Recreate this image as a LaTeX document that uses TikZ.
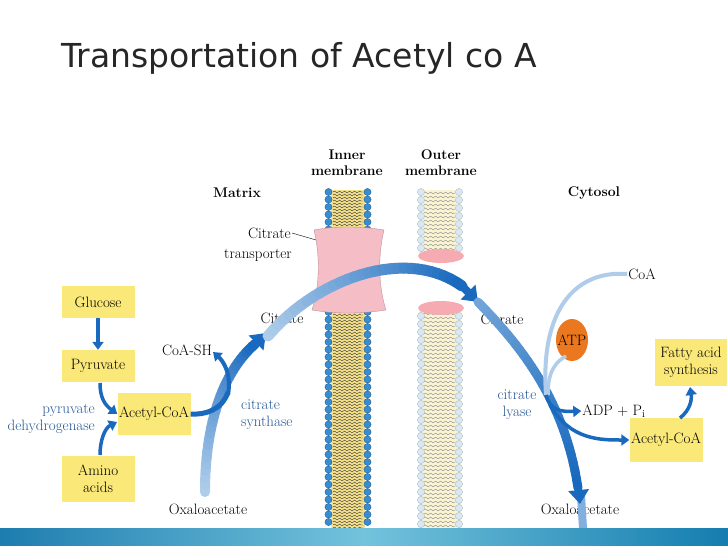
\documentclass[tikz,border=0pt]{standalone}
\usepackage{fontspec}
\newfontfamily\titlefont{DejaVu Sans}
\usetikzlibrary{arrows.meta,decorations.pathmorphing}
\definecolor{dblue}{RGB}{25,105,190}
\definecolor{lblue}{RGB}{175,205,235}
\definecolor{ybox}{RGB}{250,232,120}
\definecolor{btext}{RGB}{35,85,150}
\definecolor{pinkt}{RGB}{245,190,198}
\definecolor{myel}{RGB}{245,225,140}
\definecolor{oyel}{RGB}{250,244,212}
\definecolor{ihead}{RGB}{55,140,210}
\definecolor{ohead}{RGB}{215,232,246}
\definecolor{atpc}{RGB}{235,120,30}
\definecolor{barl}{RGB}{30,125,175}
\definecolor{barm}{RGB}{115,195,220}
\definecolor{barr}{RGB}{20,125,175}
\newcommand\gcA{lblue}
\newcommand\gcB{dblue}
\newcommand\gcurve[9]{%
\foreach \i in {0,...,29}{%
\pgfmathsetmacro\ta{\i/30}\pgfmathsetmacro\tb{(\i+1)/30}\pgfmathtruncatemacro\pc{100*\i/29}%
\draw[line width=#9,line cap=round,color=\gcB!\pc!\gcA] ({bz(\ta,#1,#3,#5,#7)},{bz(\ta,#2,#4,#6,#8)}) -- ({bz(\tb,#1,#3,#5,#7)},{bz(\tb,#2,#4,#6,#8)});}}
\begin{document}
\begin{tikzpicture}[x=1pt,y=-1pt,
 declare function={bz(\t,\a,\b,\c,\d)=(1-\t)^3*\a+3*(1-\t)^2*\t*\b+3*(1-\t)*\t^2*\c+\t^3*\d;},
 lbl/.style={font=\fontsize{15}{17}\selectfont,align=center,inner sep=1pt},
 blbl/.style={lbl,text=btext},
 ybx/.style={fill=ybox,lbl,inner sep=0pt},
 arr/.style={dblue,line width=3.5pt,-{Triangle[length=8pt,width=11pt]}},
 wav/.style={decorate,decoration={snake,amplitude=0.9,segment length=5}}]
\useasboundingbox (0,0) rectangle (728,546);
\fill[white] (0,0) rectangle (728,546);
\node[anchor=west,font=\titlefont\fontsize{33}{38}\selectfont,text=black!85] (title) at (58,58) {Transportation of Acetyl co A};
% inner membrane
\fill[myel] (331,190) rectangle (365,528);
\foreach \y in {192,195,...,528}{\ifnum\y>226 \ifnum\y<314 \else \draw[black!80,line width=0.4pt,wav] (333,\y) -- (363,\y);\fi\else\draw[black!80,line width=0.4pt,wav] (333,\y) -- (363,\y);\fi}
\foreach \y in {192,199.5,...,528}{\fill[ihead,draw=ihead!60!black,line width=0.3pt] (328.5,\y) circle (3.6) (367.5,\y) circle (3.6);}
% transporter
\fill[pinkt,draw=pinkt!70!black,line width=0.3pt] (314,230) .. controls (335,226) and (360,226) .. (384,230) .. controls (378,255) and (378,285) .. (386,310) .. controls (360,314) and (335,314) .. (312,310) .. controls (320,285) and (320,255) .. (314,230) -- cycle;
% outer membrane
\fill[oyel] (419,190) rectangle (461,256);
\fill[oyel] (419,308) rectangle (461,528);
\foreach \y in {193,197,...,250}{\draw[gray,line width=0.35pt,wav] (424,\y) -- (456,\y);}
\foreach \y in {314,318,...,526}{\draw[gray,line width=0.35pt,wav] (424,\y) -- (456,\y);}
\foreach \y in {192,200,...,250}{\fill[ohead,draw=ohead!50!gray,line width=0.3pt] (421,\y) circle (3.6) (459,\y) circle (3.6);}
\foreach \y in {316,324,...,528}{\fill[ohead,draw=ohead!50!gray,line width=0.3pt] (421,\y) circle (3.6) (459,\y) circle (3.6);}
\fill[pinkt!90!red] (441,256) ellipse (23 and 7);
\fill[pinkt!90!red] (441,308) ellipse (23 and 7);
% labels
\node[lbl,font=\bfseries\fontsize{14}{16}\selectfont] (inner) at (347,163) {Inner\\membrane};
\node[lbl,font=\bfseries\fontsize{14}{16}\selectfont] (outer) at (441,163) {Outer\\membrane};
\node[lbl,font=\bfseries\fontsize{14}{16}\selectfont] (matrix) at (237,193) {Matrix};
\node[lbl,font=\bfseries\fontsize{14}{16}\selectfont] (cytosol) at (594,193) {Cytosol};
\node[lbl,anchor=east] (ct) at (292,233) {Citrate};
\node[lbl] (ct2) at (258,255) {transporter};
\coordinate (ctend) at (316,240);
\draw[line width=0.4pt] (ct.east) -- (ctend);
% boxes
\node[ybx,minimum width=73pt,minimum height=32pt] (glu) at (98,302) {Glucose};
\node[ybx,minimum width=73pt,minimum height=32pt] (pyr) at (98,366) {Pyruvate};
\node[ybx,minimum width=73pt,minimum height=42pt] (aca) at (154,414) {Acetyl-CoA};
\node[ybx,minimum width=73pt,minimum height=46pt] (ami) at (98,479) {Amino\\acids};
\node[ybx,minimum width=72pt,minimum height=47pt] (fat) at (691,362) {Fatty acid\\synthesis};
\node[ybx,minimum width=73pt,minimum height=44pt] (acb) at (666,440) {Acetyl-CoA};
\fill[atpc] (572,340) ellipse (16 and 21);
\node[lbl] (atp) at (572,340) {ATP};
% text labels
\node[lbl] (cit1) at (282,318) {Citrate};
\node[lbl] (coash) at (187,350) {CoA-SH};
\node[blbl,align=right,anchor=east] (pdh) at (96,419) {pyruvate\\dehydrogenase};
\node[blbl,align=left,anchor=west] (cs) at (240,415) {citrate\\synthase};
\node[lbl] (oaa1) at (208,509) {Oxaloacetate};
\node[lbl] (cit2) at (502,319) {Citrate};
\node[lbl] (coa) at (642,274) {CoA};
\node[blbl] (cl) at (517,405) {citrate\\lyase};
\node[lbl] (adp) at (614,411) {ADP + P$_{\mathrm i}$};
\node[lbl] (oaa2) at (580,509) {Oxaloacetate};
% big arrows
\gcurve{205}{492}{205}{420}{225}{370}{255}{344}{10pt}
\draw[dblue,-{Triangle[length=14pt,width=20pt]},line width=8pt] (251,348) -- (266,333);
\gcurve{268}{336}{315}{280}{405}{245}{462}{286}{11pt}
\draw[dblue,-{Triangle[length=14pt,width=20pt]},line width=8pt] (460,284) -- (478,302);
\draw[line width=8pt,lblue!70!dblue] (581,495) -- (583,528);
\renewcommand\gcA{lblue!60!dblue}
\gcurve{478}{302}{520}{345}{565}{400}{578}{488}{9pt}
\draw[dblue,-{Triangle[length=14pt,width=20pt]},line width=7pt] (578,484) -- (580,504);
% small arrows
\draw[arr] (glu.south) -- (pyr.north);
\draw[arr] (100,383) .. controls (100,398) and (105,405) .. (aca.west);
\draw[arr] (100,455) .. controls (100,440) and (105,428) .. (117,422);
\draw[dblue,line width=5pt] (aca.east) .. controls (205,415) and (222,410) .. (228,392);
\draw[arr,line width=4pt] (228,395) .. controls (232,372) and (222,360) .. (213,352);
\draw[lblue,line width=4pt] (coa.west) .. controls (575,270) and (540,310) .. (546,395);
\draw[lblue,line width=3.5pt] (566,356) .. controls (550,365) and (548,380) .. (548,395);
\draw[arr] (546,395) .. controls (550,410) and (560,412) .. (adp.west);
\draw[arr] (550,405) .. controls (570,440) and (600,440) .. (acb.west);
\draw[arr] (680,418) .. controls (690,410) and (692,400) .. (690,387);
% bottom bar
\shade[left color=barl,right color=barr,middle color=barm] (0,528) rectangle (728,546);
\end{tikzpicture}
\end{document}
